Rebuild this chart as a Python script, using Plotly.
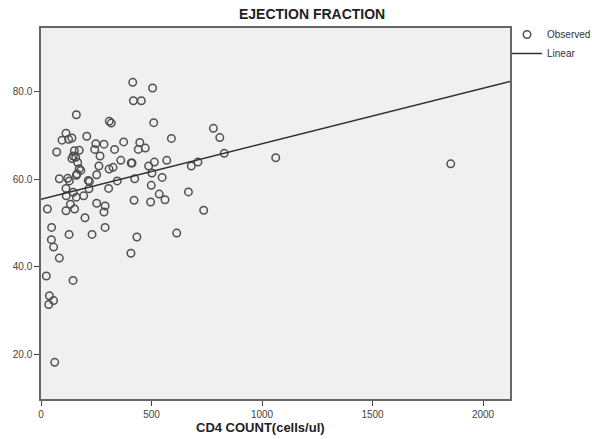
import plotly.graph_objects as go

# CD4 count (cells/ul) and ejection fraction (%)
cd4 = [415, 505, 418, 454, 160, 309, 318, 510, 780, 113,
       809, 95, 125, 140, 207, 590, 248, 285, 374, 447,
       71, 151, 173, 146, 140, 157, 243, 333, 440, 472,
       267, 166, 361, 408, 412, 513, 569, 710, 680, 829,
       173, 262, 308, 326, 487, 160, 83, 121, 252, 502,
       128, 214, 219, 345, 424, 548, 113, 217, 306, 499,
       146, 114, 160, 193, 535, 561, 667, 421, 496, 29,
       133, 113, 152, 252, 290, 285, 199, 736, 290, 48,
       614, 47, 127, 231, 434, 57, 83, 407, 24, 145,
       38, 57, 35, 62, 1062, 1854, 163, 180]
ef = [82.1, 80.8, 77.9, 77.9, 74.7, 73.2, 72.8, 72.9, 71.6, 70.5,
      69.5, 68.9, 69.1, 69.4, 69.8, 69.3, 68.1, 68.0, 68.5, 68.4,
      66.2, 66.5, 66.6, 65.3, 64.7, 65.0, 66.8, 66.8, 66.8, 67.1,
      65.3, 63.8, 64.3, 63.7, 63.7, 63.9, 64.3, 63.9, 63.0, 65.9,
      62.4, 63.0, 62.3, 62.7, 63.0, 60.9, 60.1, 60.2, 61.0, 61.4,
      59.6, 59.7, 59.5, 59.6, 60.1, 60.4, 57.9, 57.8, 57.9, 58.6,
      57.0, 56.2, 55.9, 56.2, 56.6, 55.3, 57.1, 55.2, 54.8, 53.2,
      54.3, 52.8, 53.2, 54.5, 53.9, 52.5, 51.2, 52.9, 49.0, 49.0,
      47.7, 46.2, 47.4, 47.4, 46.8, 44.5, 42.0, 43.1, 37.9, 36.9,
      33.4, 32.3, 31.4, 18.2, 64.9, 63.5, 61.2, 62.0]

# Linear fit line end points
line_x = [0, 2122]
line_y = [55.4, 82.3]

x_ticks = [0, 500, 1000, 1500, 2000]
x_tick_labels = ["0", "500", "1000", "1500", "2000"]
y_ticks = [20, 40, 60, 80]
y_tick_labels = ["20.0", "40.0", "60.0", "80.0"]

PLOT_H = 439 - 28 - 40
PLOT_W = 592 - 41 - 82

fig = go.Figure()
fig.add_trace(go.Scatter(
    x=cd4, y=ef, mode="markers", name="Observed",
    marker=dict(symbol="circle-open", size=7.5, color="#505050",
                line=dict(width=1.5, color="#505050")),
))
fig.add_trace(go.Scatter(
    x=line_x, y=line_y, mode="lines", name="Linear",
    line=dict(color="#303030", width=1.5),
))

fig.update_layout(
    width=592, height=439,
    margin=dict(l=41, r=82, t=28, b=40, autoexpand=False),
    paper_bgcolor="white",
    plot_bgcolor="#f0f0f0",
    font=dict(family="Liberation Sans, Arial, sans-serif", color="#333333", size=10),
    showlegend=True,
    legend=dict(x=1.0 - 3 / PLOT_W, y=1.0 + 8 / PLOT_H, xanchor="left", yanchor="top",
                bgcolor="rgba(0,0,0,0)", font=dict(size=10, color="#333333"),
                itemwidth=30, tracegroupgap=0),
    annotations=[
        dict(text="<b>EJECTION FRACTION</b>", x=0.578, y=1.0 + 14 / PLOT_H,
             xref="paper", yref="paper", showarrow=False, yanchor="middle",
             font=dict(size=14, color="#222222")),
        dict(text="<b>CD4 COUNT(cells/ul)</b>", x=0.468, y=-29 / PLOT_H,
             xref="paper", yref="paper", showarrow=False, yanchor="middle",
             font=dict(size=13, color="#222222")),
    ],
)

fig.update_xaxes(
    range=[0, 2122], tickvals=x_ticks, ticktext=x_tick_labels,
    showgrid=False, zeroline=False, showline=True, linecolor="#666666",
    linewidth=1.5, mirror=True, ticks="outside", ticklen=5, tickcolor="#444444",
    tickfont=dict(size=10, color="#444444"),
)
fig.update_yaxes(
    range=[9.84, 94.5], tickvals=y_ticks, ticktext=y_tick_labels,
    showgrid=False, zeroline=False, showline=True, linecolor="#666666",
    linewidth=1.5, mirror=True, ticks="outside", ticklen=5, tickcolor="#444444",
    tickfont=dict(size=10, color="#444444"),
)

fig.write_html("out.html", config={"displayModeBar": False},
               post_script="document.body.style.margin='0';")
